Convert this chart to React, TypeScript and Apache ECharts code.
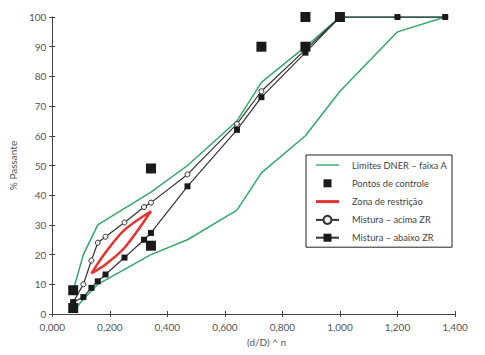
import React, { useEffect, useRef } from "react";
import * as echarts from "echarts";

const limitX = [0.0727, 0.108, 0.158, 0.343, 0.47, 0.642, 0.727, 0.88, 1.0, 1.2, 1.366];
const upperLimit = [8, 20, 30, 41, 50, 65, 78, 90, 100, 100, 100];
const lowerLimit = [1, 5, 10, 20, 25, 35, 47.5, 60, 75, 95, 100];

const ctrlX = [0.0727, 0.0727, 0.343, 0.343, 0.727, 0.88, 0.88, 1.0];
const ctrlY = [2, 8, 23, 49, 90, 90, 100, 100];

const zoneX = [0.136, 0.185, 0.251, 0.343, 0.251, 0.185, 0.136];
const zoneY = [13.7, 16.7, 22.3, 34.6, 28.3, 20.7, 13.7];

const mixX = [0.0727, 0.108, 0.136, 0.158, 0.185, 0.251, 0.319, 0.343, 0.47, 0.642, 0.727, 0.88, 1.0, 1.2, 1.366];
const mixAbove = [4, 10, 18, 24, 26, 30.8, 36, 37.5, 47, 64, 75, 89, 100, 100, 100];
const mixBelow = [4, 5.7, 8.8, 11, 13.3, 19, 25, 27.3, 43, 62, 73, 88, 100, 100, 100];

const names = [
  "Limites DNER – faixa A",
  "Pontos de controle",
  "Zona de restrição",
  "Mistura – acima ZR",
  "Mistura – abaixo ZR",
];

const zip = (xs: number[], ys: number[]) => xs.map((x, i) => [x, ys[i]]);

const FONT = "Lato, 'Liberation Sans', sans-serif";
const GREEN = "#33a86a";
const RED = "#e3342f";
const DARK = "#333333";

const ICON_THIN = "path://M0,0 M0,4.3 L23,4.3 L23,5.7 L0,5.7 Z M23,10";
const ICON_THICK = "path://M0,0 M0,3.5 L23,3.5 L23,6.5 L0,6.5 Z M23,10";
const ICON_SQUARE = "path://M0,0 M7.5,1 L15.5,1 L15.5,9 L7.5,9 Z M23,10";

export default function App() {
  const ref = useRef<HTMLDivElement>(null);
  useEffect(() => {
    if (!ref.current) return;
    const chart = echarts.init(ref.current, undefined, { renderer: "svg" });
    const axisBase = {
      type: "value" as const,
      splitLine: { show: false },
    };
    chart.setOption({
      animation: false,
      textStyle: { fontFamily: FONT },
      grid: { left: 44, right: 30, top: 17, bottom: 41 },
      xAxis: [
        {
          ...axisBase,
          min: 0,
          max: 1.4,
          interval: 0.2,
          position: "bottom",
          axisLine: { lineStyle: { color: "#444", width: 1 } },
          axisTick: { length: 3, lineStyle: { color: "#444" } },
          axisLabel: {
            color: "#555",
            fontSize: 10,
            margin: 8,
            formatter: (v: number) => v.toFixed(3).replace(".", ","),
          },
          name: "(d/D) ^ n",
          nameLocation: "middle",
          nameGap: 23,
          nameTextStyle: { color: "#555", fontSize: 10, padding: [0, 0, 0, 26] },
        },
        {
          ...axisBase,
          min: 0,
          max: 1.4,
          interval: 0.2,
          position: "bottom",
          axisLine: { show: false },
          axisTick: { inside: true, length: 3, lineStyle: { color: "#444" } },
          axisLabel: { show: false },
        },
      ],
      yAxis: [
        {
          ...axisBase,
          min: 0,
          max: 100,
          interval: 10,
          position: "left",
          axisLine: { show: true, lineStyle: { color: "#444", width: 1 } },
          axisTick: { show: true, length: 3, lineStyle: { color: "#444" } },
          axisLabel: { color: "#555", fontSize: 10, margin: 6 },
          name: "% Passante",
          nameLocation: "middle",
          nameGap: 26,
          nameTextStyle: { color: "#555", fontSize: 10 },
        },
        {
          ...axisBase,
          min: 0,
          max: 100,
          interval: 10,
          position: "left",
          axisLine: { show: false },
          axisTick: { show: true, inside: true, length: 3, lineStyle: { color: "#444" } },
          axisLabel: { show: false },
        },
      ],
      legend: {
        data: [
          { name: names[0], icon: ICON_THIN, itemStyle: { borderWidth: 0 } },
          { name: names[1], icon: ICON_SQUARE, itemStyle: { borderWidth: 0 } },
          { name: names[2], icon: ICON_THICK, itemStyle: { borderWidth: 0 } },
          { name: names[3] },
          { name: names[4] },
        ],
        orient: "vertical",
        left: 306,
        top: 155,
        borderColor: "#222",
        borderWidth: 1,
        borderRadius: 0,
        padding: [5, 5, 5, 9],
        itemWidth: 23,
        itemHeight: 10,
        itemGap: 8.3,
        textStyle: {
          color: "#444",
          fontSize: 9.3,
          fontFamily: FONT,
          padding: [0, 0, 0, 8],
        },
        selectedMode: false,
      },
      series: [
        {
          name: names[0],
          type: "line",
          data: zip(limitX, upperLimit),
          symbol: "none",
          lineStyle: { color: GREEN, width: 1.5 },
          itemStyle: { color: GREEN },
          z: 2,
        },
        {
          name: names[0],
          type: "line",
          data: zip(limitX, lowerLimit),
          symbol: "none",
          lineStyle: { color: GREEN, width: 1.5 },
          itemStyle: { color: GREEN },
          z: 2,
        },
        {
          name: names[2],
          type: "line",
          data: zip(zoneX, zoneY),
          symbol: "none",
          smooth: 0.3,
          lineStyle: { color: RED, width: 2.5 },
          itemStyle: { color: RED },
          z: 3,
        },
        {
          name: names[3],
          type: "line",
          data: zip(mixX, mixAbove),
          symbol: "circle",
          symbolSize: 5,
          lineStyle: { color: DARK, width: 1.2 },
          itemStyle: { color: "#eee", borderColor: DARK, borderWidth: 1 },
          z: 4,
        },
        {
          name: names[4],
          type: "line",
          data: zip(mixX, mixBelow),
          symbol: "rect",
          symbolSize: 6,
          lineStyle: { color: DARK, width: 1.2 },
          itemStyle: { color: "#1a1a1a" },
          z: 4,
        },
        {
          name: names[1],
          type: "scatter",
          data: zip(ctrlX, ctrlY),
          symbol: "rect",
          symbolSize: 10,
          itemStyle: { color: "#1a1a1a", opacity: 1 },
          z: 5,
        },
      ],
    });
    return () => chart.dispose();
  }, []);
  return <div ref={ref} style={{ width: 485, height: 355, margin: -8 }} />;
}
